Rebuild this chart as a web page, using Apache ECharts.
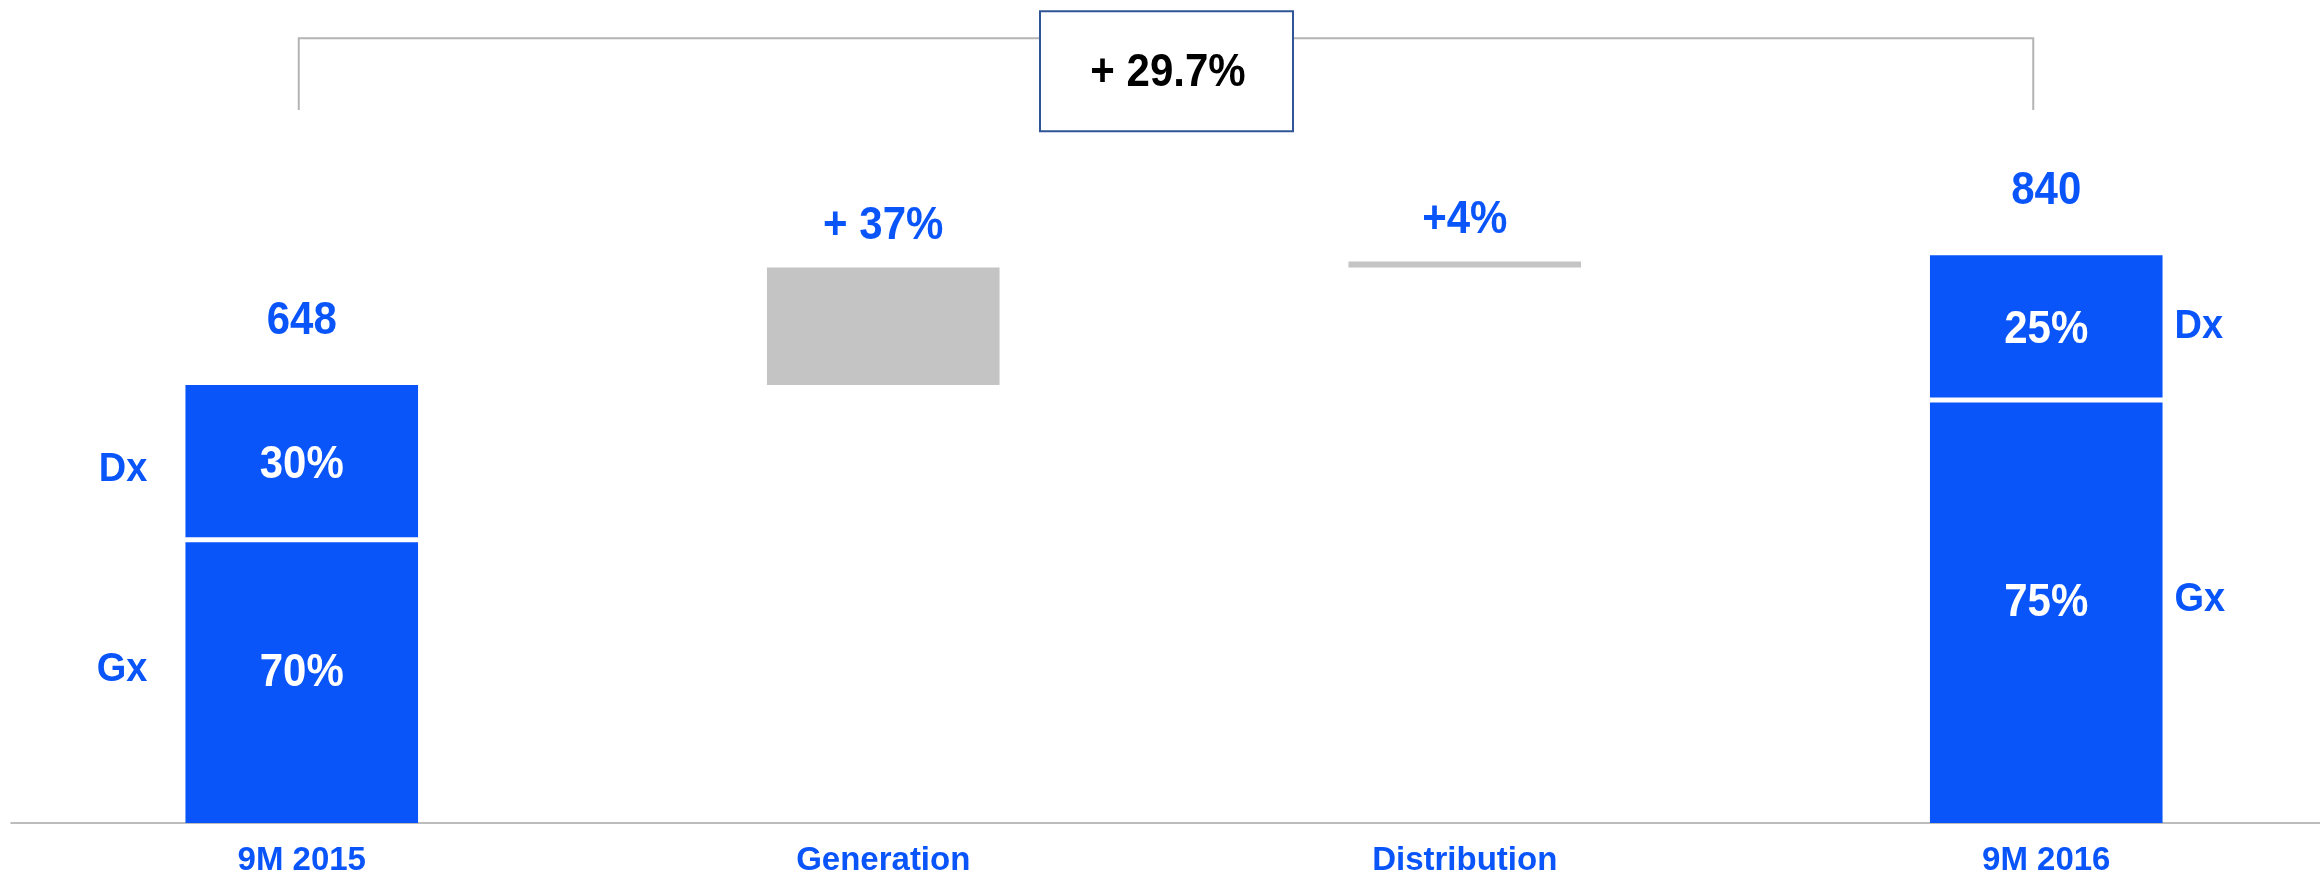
<!DOCTYPE html>
<html>
<head>
<meta charset="utf-8">
<script src="https://cdn.jsdelivr.net/npm/echarts@6/dist/echarts.min.js"></script>
<style>
  html, body { margin: 0; padding: 0; background: #fff; }
  #chart { width: 2320px; height: 875px; }
</style>
</head>
<body>
<div id="chart"></div>
<script>
// values
var categories = ['9M 2015', 'Generation', 'Distribution', '9M 2016']
var gxValues = [419, null, null, 626]
var dxValues = [229, null, null, 214]
var gxLabels = ['70%', null, null, '75%']
var dxLabels = ['30%', null, null, '25%']
var deltaValues = [null, 174, 9, null]
var deltaLabels = [null, '+ 37%', '+4%', null]
var totalGrowth = '+ 29.7%'

var BLUE = '#0A55FA'
var GREY = '#C4C4C4'
var FONT = '"Liberation Sans", Arial, sans-serif'
var bracketLevel = 1161
var bracketFoot = 1055

// build segments for the waterfall
var rows = []
var running = 0
for (var i = 0; i < categories.length; i++) {
  if (gxValues[i] != null) {
    var total = gxValues[i] + dxValues[i]
    var side = i === 0 ? 'left' : 'right'
    rows.push({ value: [i, 0, gxValues[i]], kind: 'gx', text: gxLabels[i], side: side, sideText: 'Gx' })
    rows.push({ value: [i, gxValues[i], total], kind: 'dx', text: dxLabels[i], side: side, sideText: 'Dx', top: String(total) })
    running = total
  } else {
    rows.push({ value: [i, running, running + deltaValues[i]], kind: 'delta', top: deltaLabels[i] })
    running += deltaValues[i]
  }
}

// text slightly stretched vertically, like the original slide font
function txt (text, x, y, size, color, align) {
  return {
    type: 'text',
    x: x,
    y: y,
    scaleY: 1.08,
    style: {
      text: text, x: 0, y: 0,
      align: align || 'center', verticalAlign: 'middle',
      fontSize: size, fontWeight: 'bold', fontFamily: FONT,
      fill: color
    }
  }
}

function renderBar (params, api) {
  var row = rows[params.dataIndex]
  var lo = api.coord([api.value(0), api.value(1)])
  var hi = api.coord([api.value(0), api.value(2)])
  var w = api.size([1, 0])[0] * 0.4
  var x = lo[0] - w / 2
  var y0 = lo[1]
  var y1 = hi[1]
  if (row.kind === 'gx') y1 += 2.5
  if (row.kind === 'dx') y0 -= 2.5
  var children = [{
    type: 'rect',
    shape: { x: x, y: y1, width: w, height: y0 - y1 },
    style: { fill: row.kind === 'delta' ? GREY : BLUE }
  }]
  var mid = (y0 + y1) / 2
  if (row.text) children.push(txt(row.text, lo[0], row.kind === 'gx' ? mid - 9 : mid + 4, 42, '#fff'))
  if (row.sideText) {
    var sy = row.kind === 'gx' ? mid - 13 : mid
    if (row.side === 'left') children.push(txt(row.sideText, x - 38, row.kind === 'dx' ? sy + 8 : sy, 38, BLUE, 'right'))
    else children.push(txt(row.sideText, x + w + 12, sy, 38, BLUE, 'left'))
  }
  if (row.top) {
    var off = row.kind === 'delta' ? 41 : 64
    children.push(txt(row.top, lo[0], hi[1] - off, 42, BLUE))
  }
  return { type: 'group', children: children }
}

function renderBracket (params, api) {
  var a = api.coord([0, bracketLevel])
  var b = api.coord([categories.length - 1, bracketLevel])
  var foot = api.coord([0, bracketFoot])[1]
  var left = a[0] - 3
  var right = b[0] - 13
  var cx = (left + right) / 2
  return {
    type: 'group',
    children: [
      {
        type: 'polyline',
        shape: { points: [[left, foot], [left, a[1]], [right, b[1]], [right, foot]] },
        style: { stroke: '#B4B4B4', lineWidth: 2, fill: null }
      },
      {
        type: 'rect',
        shape: { x: cx - 126, y: a[1] - 27, width: 253, height: 120 },
        style: { fill: '#fff', stroke: '#2F5597', lineWidth: 2 }
      },
      txt(totalGrowth, cx + 2, a[1] + 35, 42, '#000')
    ]
  }
}

var myChart = echarts.init(document.getElementById('chart'))
myChart.setOption({
  animation: false,
  grid: {
    left: 11, width: 2326, top: 12, bottom: 52,
    containLabel: false, outerBoundsMode: 'none'
  },
  xAxis: {
    type: 'category',
    data: categories,
    axisTick: { show: false },
    axisLine: { lineStyle: { color: '#A6A6A6', width: 1.5 } },
    axisLabel: {
      color: BLUE, fontSize: 33, fontWeight: 'bold', fontFamily: FONT, margin: 21
    }
  },
  yAxis: {
    type: 'value', min: 0, max: 1200, show: false, splitLine: { show: false }
  },
  series: [
    {
      type: 'custom',
      renderItem: renderBar,
      encode: { x: 0, y: [1, 2] },
      data: rows.map(function (r) { return r.value })
    },
    {
      type: 'custom',
      renderItem: renderBracket,
      encode: { x: 0, y: 1 },
      data: [[0, bracketLevel]]
    }
  ]
})
</script>
</body>
</html>
